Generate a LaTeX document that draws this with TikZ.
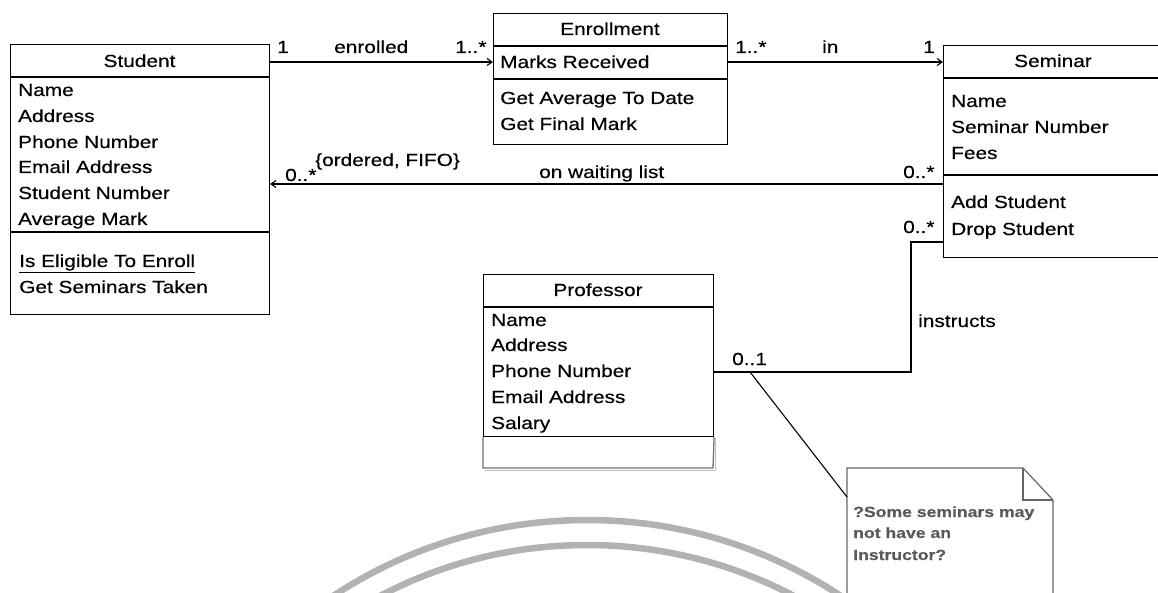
\documentclass[tikz,border=0pt]{standalone}
\usepackage{fontspec}
\setmainfont{Liberation Sans}[FakeStretch=1.19, FakeBold=0.35]
\usetikzlibrary{arrows.meta}
\begin{document}
\begin{tikzpicture}[x=1pt,y=-1pt,
  box/.style={draw, line width=1.1pt, anchor=north west, inner sep=0pt},
  sepline/.style={line width=1.6pt},
  txt/.style={anchor=base west, inner sep=0pt, font=\fontsize{17.5}{20}\selectfont},
  ctxt/.style={anchor=base, inner sep=0pt, font=\fontsize{17.5}{20}\selectfont},
  conn/.style={line width=1.1pt},
  arr/.style={conn, -{Straight Barb[length=5pt,width=7pt]}},
  notetxt/.style={anchor=base west, inner sep=0pt, text=black!65, font=\fontsize{14.8}{16}\selectfont\bfseries},
  wm/.style={draw=black!30, line width=6.5pt}
]
\useasboundingbox (0,0) rectangle (1158,593);
\clip (0,0) rectangle (1158,593);
\fill[white] (0,0) rectangle (1158,593);

% watermark arcs
\draw[wm] (587,982) circle[radius=462];
\draw[wm] (587,990) circle[radius=445];

% ---------- Student ----------
\node[box, minimum width=259, minimum height=270] (student) at (10,44) {};
\draw[sepline] (student.north west |- 0,77) -- (student.north east |- 0,77);
\draw[line width=1.1pt] (student.north west |- 0,232) -- (student.north east |- 0,232);
\node[ctxt] (st-t) at (139.5,67) {Student};
\node[txt] (st-a1) at (18,96) {Name};
\node[txt] (st-a2) at (18,122) {Address};
\node[txt] (st-a3) at (18,148) {Phone Number};
\node[txt] (st-a4) at (18,173) {Email Address};
\node[txt] (st-a5) at (18,199) {Student Number};
\node[txt] (st-a6) at (18,225) {Average Mark};
\node[txt] (st-m1) at (19,267) {\underline{Is Eligible To Enroll}};
\node[txt] (st-m2) at (19,293) {Get Seminars Taken};

% ---------- Enrollment ----------
\node[box, minimum width=234, minimum height=131] (enr) at (493,13) {};
\draw[sepline] (enr.north west |- 0,46) -- (enr.north east |- 0,46);
\draw[sepline] (enr.north west |- 0,79) -- (enr.north east |- 0,79);
\node[ctxt] (en-t) at (610,35) {Enrollment};
\node[txt] (en-a1) at (500,68) {Marks Received};
\node[txt] (en-m1) at (500,104) {Get Average To Date};
\node[txt] (en-m2) at (500,130) {Get Final Mark};

% ---------- Seminar ----------
\node[box, minimum width=220, minimum height=212] (sem) at (943,45) {};
\draw[sepline] (sem.north west |- 0,78) -- (sem.north east |- 0,78);
\draw[sepline] (sem.north west |- 0,175) -- (sem.north east |- 0,175);
\node[ctxt] (se-t) at (1053,67) {Seminar};
\node[txt] (se-a1) at (951,107) {Name};
\node[txt] (se-a2) at (951,133) {Seminar Number};
\node[txt] (se-a3) at (951,159) {Fees};
\node[txt] (se-m1) at (951,208) {Add Student};
\node[txt] (se-m2) at (951,235) {Drop Student};

% ---------- Professor ----------
\node[box, minimum width=230, minimum height=162] (prof) at (483,274) {};
\draw[sepline] (prof.north west |- 0,307) -- (prof.north east |- 0,307);
\draw[line width=1.3pt, black!55] (prof.south west) -- (483,468) -- (713,468) -- (prof.south east);
\draw[line width=1pt, black!25] (485,470) -- (715,470) -- (715,438);
\node[ctxt] (pr-t) at (598,296) {Professor};
\node[txt] (pr-a1) at (491,326) {Name};
\node[txt] (pr-a2) at (491,351) {Address};
\node[txt] (pr-a3) at (491,377) {Phone Number};
\node[txt] (pr-a4) at (491,403) {Email Address};
\node[txt] (pr-a5) at (491,429) {Salary};

% ---------- Note ----------
\node[anchor=north west, minimum width=206, minimum height=140, inner sep=0pt] (note) at (847,468) {};
\draw[line width=1.2pt, black!60] (847,600) -- (note.north west) -- (1023,468) -- (1053,500) -- (1053,600);
\draw[line width=1.2pt, black!60] (1023,468) -- (1023,500) -- (1053,500);
\node[notetxt] (n1) at (853,517) {?Some seminars may};
\node[notetxt] (n2) at (853,538) {not have an};
\node[notetxt] (n3) at (853,560) {Instructor?};

% ---------- Connectors ----------
\draw[arr] (student.north east |- 0,62) -- (enr.north west |- 0,62);
\node[txt] (l1) at (277,53) {1};
\node[txt] (l2) at (334,53) {enrolled};
\node[txt] (l3) at (455,53) {1..*};

\draw[arr] (enr.north east |- 0,62) -- (sem.north west |- 0,62);
\node[txt] (l4) at (735,53) {1..*};
\node[txt] (l5) at (822,53) {in};
\node[txt] (l6) at (923,53) {1};

\draw[arr] (sem.north west |- 0,184) -- (student.north east |- 0,184);
\node[txt] (l7) at (285,181) {0..*};
\node[txt] (l8) at (315,166) {\{ordered, FIFO\}};
\node[txt] (l9) at (539,178) {on waiting list};
\node[txt] (l10) at (903,178) {0..*};

\coordinate (bend) at (911,242);
\draw[conn] (sem.north west |- bend) -- (bend) -- (bend |- 0,372) -- (prof.north east |- 0,372);
\node[txt] (l11) at (903,233) {0..*};
\node[txt] (l12) at (918,327) {instructs};
\node[txt] (l13) at (732,365) {0..1};

\coordinate (na) at (750,372);
\draw[line width=1.1pt] (na) -- (note.north west |- 0,497);
\end{tikzpicture}
\end{document}
